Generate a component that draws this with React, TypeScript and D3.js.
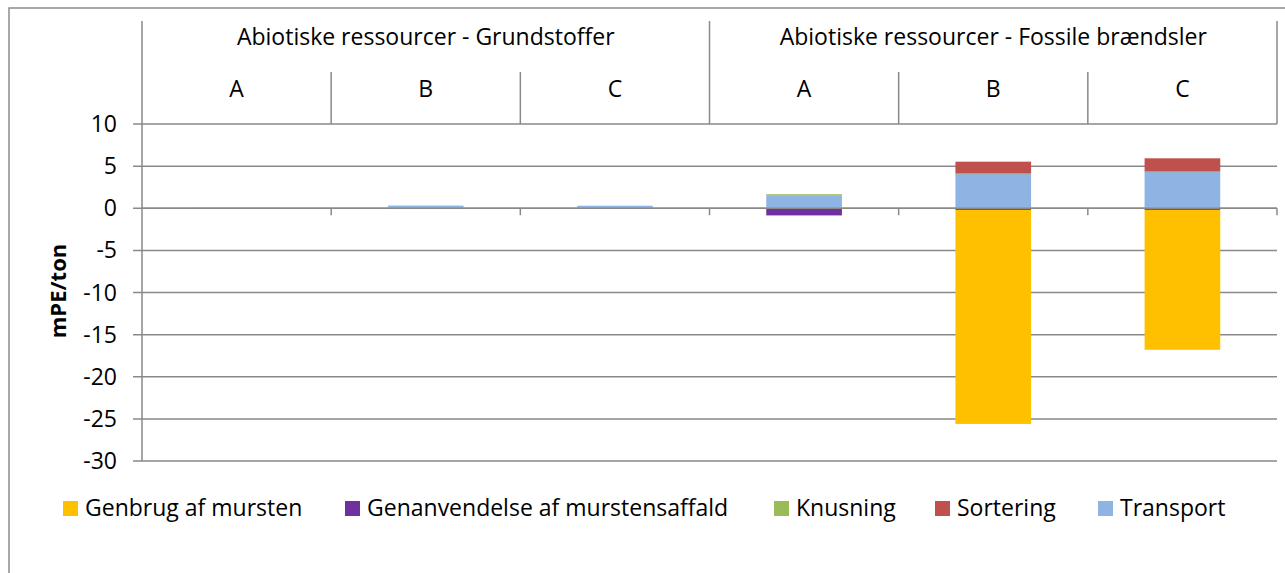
import React from "react";
import * as d3 from "d3";

// groups and sub-categories along the x axis
const groups = ["Abiotiske ressourcer - Grundstoffer", "Abiotiske ressourcer - Fossile brændsler"];
const scenarios = ["A", "B", "C"];

// series, in legend order
const seriesNames = ["Genbrug af mursten", "Genanvendelse af murstensaffald", "Knusning", "Sortering", "Transport"];
const seriesColors = ["#FFC000", "#7030A0", "#9BBB59", "#C0504D", "#8EB4E3"];

// values per bar: Grundstoffer A,B,C then Fossile A,B,C
const genbrug = [0, -0.08, 0, 0, -25.4, -16.6];
const genanvendelse = [0, 0, 0, -0.85, -0.2, -0.2];
const knusning = [0.04, 0, 0, 0.12, 0.03, 0.03];
const sortering = [0, 0, 0, 0, 1.4, 1.55];
const transport = [0.02, 0.32, 0.3, 1.55, 4.1, 4.35];

const yTicks = [10, 5, 0, -5, -10, -15, -20, -25, -30];

// legend x positions (layout only)
const legendX = [63, 345, 774, 935, 1098];

const W = 1285;
const H = 573;
const FONT = "'Open Sans', Lato, sans-serif";

export default function App() {
  const left = 142, right = 1277, top = 124, bottom = 461;

  const barKeys = groups.flatMap((g) => scenarios.map((s) => g + "|" + s));
  const x = d3.scaleBand().domain(barKeys).range([left, right]).padding(0);
  const xGroup = d3.scaleBand().domain(groups).range([left, right]).padding(0);
  const y = d3.scaleLinear().domain([-30, 10]).range([bottom, top]);
  const barW = x.bandwidth() / 2.5;

  const rows = barKeys.map((k, i) => ({
    key: k,
    "Genbrug af mursten": genbrug[i],
    "Genanvendelse af murstensaffald": genanvendelse[i],
    Knusning: knusning[i],
    Sortering: sortering[i],
    Transport: transport[i],
  }));
  // stacking order: purple closest to zero below, transport closest above
  const stackKeys = ["Genanvendelse af murstensaffald", "Genbrug af mursten", "Transport", "Knusning", "Sortering"];
  const stacked = d3.stack<any>().keys(stackKeys).offset(d3.stackOffsetDiverging)(rows);
  const color = d3.scaleOrdinal<string, string>().domain(seriesNames).range(seriesColors);

  const gridColor = "#898989";
  const fs = 23;

  return (
    <svg width={W} height={H} style={{ position: "absolute", left: 0, top: 0, background: "#fff" }} fontFamily={FONT}>
      <rect x={9} y={8} width={1300} height={600} fill="#fff" stroke="#8c8c8c" strokeWidth={1.5} />

      {/* grid lines */}
      {yTicks.map((t) => (
        <g key={t}>
          <line x1={left - 9} x2={right} y1={y(t)} y2={y(t)} stroke={gridColor} strokeWidth={1.5} />
          <text x={117} y={y(t) + 8} textAnchor="end" fontSize={fs} fill="#000">{t}</text>
        </g>
      ))}

      {/* header lines */}
      <line x1={left} x2={left} y1={21} y2={bottom} stroke={gridColor} strokeWidth={1.5} />
      {groups.map((g) => (
        <line key={g} x1={(xGroup(g) as number) + xGroup.bandwidth()} x2={(xGroup(g) as number) + xGroup.bandwidth()} y1={21} y2={top} stroke={gridColor} strokeWidth={1.5} />
      ))}
      {barKeys.filter((_, i) => i % 3 !== 2).map((k) => (
        <line key={k} x1={(x(k) as number) + x.bandwidth()} x2={(x(k) as number) + x.bandwidth()} y1={72} y2={top} stroke={gridColor} strokeWidth={1.5} />
      ))}
      {groups.map((g) => (
        <text key={g} x={(xGroup(g) as number) + xGroup.bandwidth() / 2} y={45} textAnchor="middle" fontSize={fs}>{g}</text>
      ))}
      {barKeys.map((k) => (
        <text key={k} x={(x(k) as number) + x.bandwidth() / 2} y={97} textAnchor="middle" fontSize={fs}>{k.split("|")[1]}</text>
      ))}

      {/* bars */}
      {stacked.map((s) => (
        <g key={s.key} fill={color(s.key)}>
          {s.map((d, i) => {
            const y0 = y(Math.max(d[0], d[1]));
            const y1 = y(Math.min(d[0], d[1]));
            if (d[1] === d[0]) return null;
            return (
              <rect key={i} x={(x(barKeys[i]) as number) + (x.bandwidth() - barW) / 2} y={y0} width={barW} height={Math.max(y1 - y0, 0.8)} />
            );
          })}
        </g>
      ))}

      {/* zero axis ticks */}
      {barKeys.map((k) => (
        <line key={k} x1={(x(k) as number) + x.bandwidth()} x2={(x(k) as number) + x.bandwidth()} y1={y(0)} y2={y(0) + 7} stroke={gridColor} strokeWidth={1.5} />
      ))}
      <line x1={left} x2={right} y1={y(0)} y2={y(0)} stroke={gridColor} strokeWidth={1.5} />

      {/* y axis title */}
      <text transform={`translate(66, 291) rotate(-90)`} textAnchor="middle" fontSize={fs - 1} fontWeight="bold">mPE/ton</text>

      {/* legend */}
      {seriesNames.map((n, i) => (
        <g key={n}>
          <rect x={legendX[i]} y={501} width={15} height={15} fill={seriesColors[i]} />
          <text x={legendX[i] + 22} y={516} fontSize={fs}>{n}</text>
        </g>
      ))}
    </svg>
  );
}
